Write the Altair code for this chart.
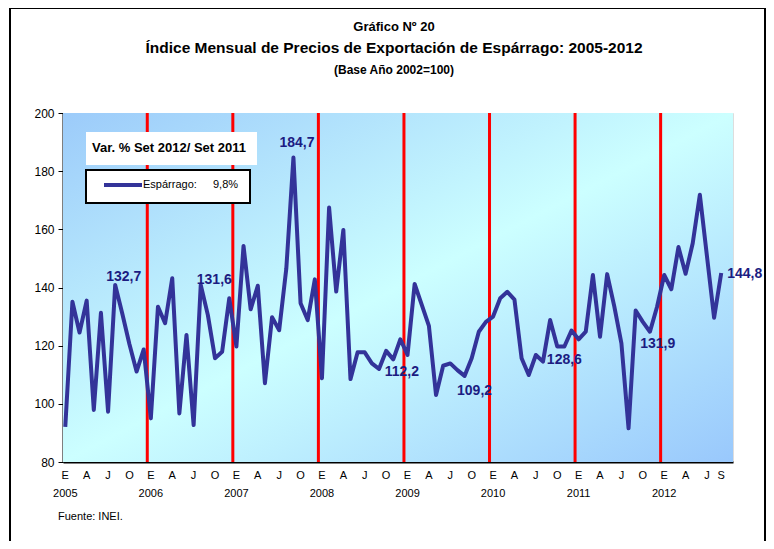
import altair as alt
import pandas as pd

# ---------------- data ----------------
years = [2005, 2006, 2007, 2008, 2009, 2010, 2011, 2012]
month_letters = ["E", "F", "M", "A", "M", "J", "J", "A", "S", "O", "N", "D"]

v2005 = [92.1, 135.1, 124.5, 135.5, 97.9, 131.3, 97.3, 140.9, 131.0, 120.5, 111.1, 118.7]
v2006 = [95.0, 133.4, 127.7, 143.2, 96.7, 123.7, 92.7, 140.9, 130.5, 115.7, 117.9, 136.3]
v2007 = [119.7, 154.3, 132.5, 140.6, 107.1, 129.8, 125.3, 146.5, 184.7, 134.6, 128.8, 142.8]
v2008 = [108.8, 167.5, 138.6, 159.8, 108.5, 117.7, 117.7, 113.9, 112.0, 118.2, 115.3, 122.2]
v2009 = [116.8, 141.2, 134.0, 126.8, 103.0, 113.1, 113.9, 111.6, 109.6, 115.7, 124.8, 128.2]
v2010 = [130.0, 136.3, 138.5, 135.8, 115.7, 109.9, 116.8, 114.5, 128.8, 119.7, 119.7, 125.2]
v2011 = [122.2, 124.8, 144.3, 123.1, 144.6, 133.5, 120.8, 91.6, 132.1, 128.2, 124.8, 133.4]
v2012 = [144.3, 139.4, 153.9, 144.7, 155.2, 171.9, 150.7, 129.6, 145.0]

values = v2005 + v2006 + v2007 + v2008 + v2009 + v2010 + v2011 + v2012

# annotation labels: text, month index, value (where the text sits)
ann_text = ["132,7", "131,6", "184,7", "112,2", "109,2", "128,6", "131,9", "144,8"]
ann_idx = [8.2, 20.9, 32.5, 47.2, 57.4, 70.0, 83.1, 95.3]
ann_val = [143.7, 142.6, 189.6, 111.0, 104.3, 114.9, 120.6, 144.6]

title1 = "Gráfico Nº 20"
title2 = "Índice Mensual de Precios de Exportación de Espárrago:  2005-2012"
title3 = "(Base Año 2002=100)"
legend_title = "Var. % Set 2012/  Set 2011"
legend_name = "Espárrago:"
legend_value = "9,8%"
source = "Fuente: INEI."

y_ticks = [80, 100, 120, 140, 160, 180, 200]

# ---------------- tables ----------------
n = len(values)
df = pd.DataFrame({"i": list(range(n)), "v": values})

tick_vals = list(range(0, n, 3)) + [n - 1]
month_df = pd.DataFrame({"i": tick_vals, "t": [month_letters[i % 12] for i in tick_vals]})
year_df = pd.DataFrame({"i": [k * 12 for k in range(len(years))], "t": [str(y) for y in years]})

sep_df = pd.DataFrame({"sep": [k * 12 - 0.5 for k in range(1, len(years))]})
ann_df = pd.DataFrame({"t": ann_text, "i": ann_idx, "v": ann_val})
one = pd.DataFrame({"a": [0]})

W, H = 670, 349
FONT = "Liberation Sans Narrow, Arial Narrow, Liberation Sans, Arial"
NAVY = "#333399"
TXT = "#1c1c82"

xscale = alt.Scale(domain=[-0.32, 93.65], nice=False, zero=False)
yscale = alt.Scale(domain=[80, 200], nice=False, zero=False)

x_axis = alt.Axis(labels=False, ticks=False, grid=False, domainColor="black",
                  domainWidth=2, title=None)
y_axis = alt.Axis(values=y_ticks, grid=False, domainColor="black", domainWidth=2,
                  tickColor="black", tickSize=5, tickWidth=1, labelFontSize=12,
                  labelPadding=4, labelColor="black", title=None, labelFont=FONT)

# ---------------- layers ----------------
frame = alt.Chart(one).mark_rect(filled=False, stroke="black", strokeWidth=2).encode(
    x=alt.value(-53), x2=alt.value(702), y=alt.value(-105), y2=alt.value(445))

bg = alt.Chart(one).mark_rect(
    color=alt.Gradient(gradient="linear", x1=0, y1=0, x2=1, y2=1,
                       stops=[alt.GradientStop(color="#9ccbfa", offset=0),
                              alt.GradientStop(color="#ccffff", offset=0.5),
                              alt.GradientStop(color="#99c8fc", offset=1)])
).encode(x=alt.value(0), x2=alt.value(W), y=alt.value(0), y2=alt.value(H))

sep_red = alt.Chart(sep_df).mark_rule(color="#ff0000", strokeWidth=3).encode(
    x=alt.X("sep:Q", scale=xscale), y=alt.value(0), y2=alt.value(H))
sep_white = alt.Chart(sep_df).mark_rule(color="white", strokeWidth=1, strokeDash=[2, 5]).encode(
    x=alt.X("sep:Q", scale=xscale), y=alt.value(0), y2=alt.value(H))

line = alt.Chart(df).mark_line(color=NAVY, strokeWidth=4, strokeJoin="round").encode(
    x=alt.X("i:Q", scale=xscale, axis=x_axis),
    y=alt.Y("v:Q", scale=yscale, axis=y_axis))

ann = alt.Chart(ann_df).mark_text(font=FONT, fontSize=14, fontWeight="bold", color=TXT,
                                  align="center", baseline="middle").encode(
    x=alt.X("i:Q", scale=xscale), y=alt.Y("v:Q", scale=yscale), text="t:N")

months = alt.Chart(month_df).mark_text(font=FONT, fontSize=11, color="black",
                                       align="center", baseline="middle").encode(
    x=alt.X("i:Q", scale=xscale), y=alt.value(H + 14), text="t:N")
yrs = alt.Chart(year_df).mark_text(font=FONT, fontSize=11, color="black",
                                   align="center", baseline="middle").encode(
    x=alt.X("i:Q", scale=xscale), y=alt.value(H + 32), text="t:N")

# legend-like box
lg_box1 = alt.Chart(one).mark_rect(color="white").encode(
    x=alt.value(23), x2=alt.value(194), y=alt.value(19), y2=alt.value(52))
lg_title = alt.Chart(one).mark_text(text=legend_title, font=FONT, fontSize=13, fontWeight="bold",
                                    color="black", align="left", baseline="middle").encode(
    x=alt.value(29), y=alt.value(35))
lg_box2 = alt.Chart(one).mark_rect(color="white", stroke="black", strokeWidth=2).encode(
    x=alt.value(23), x2=alt.value(187), y=alt.value(57), y2=alt.value(90))
lg_line = alt.Chart(one).mark_rule(color=NAVY, strokeWidth=4).encode(
    x=alt.value(41), x2=alt.value(79), y=alt.value(72))
lg_name = alt.Chart(one).mark_text(text=legend_name, font=FONT, fontSize=11, color="black",
                                   align="left", baseline="middle").encode(
    x=alt.value(80), y=alt.value(72))
lg_val = alt.Chart(one).mark_text(text=legend_value, font=FONT, fontSize=11, color="black",
                                  align="left", baseline="middle").encode(
    x=alt.value(150), y=alt.value(72))

t1 = alt.Chart(one).mark_text(text=title1, font=FONT, fontSize=13, fontWeight="bold",
                              color="black", align="center", baseline="middle").encode(
    x=alt.value(331), y=alt.value(-86))
t2 = alt.Chart(one).mark_text(text=title2, font=FONT, fontSize=15.5, fontWeight="bold",
                              color="black", align="center", baseline="middle").encode(
    x=alt.value(331), y=alt.value(-65))
t3 = alt.Chart(one).mark_text(text=title3, font=FONT, fontSize=12, fontWeight="bold",
                              color="black", align="center", baseline="middle").encode(
    x=alt.value(331), y=alt.value(-43))
src = alt.Chart(one).mark_text(text=source, font=FONT, fontSize=11, color="black",
                               align="left", baseline="middle").encode(
    x=alt.value(-5), y=alt.value(404))

chart = alt.layer(
    frame, bg, sep_white, sep_red, line, ann, months, yrs,
    lg_box1, lg_title, lg_box2, lg_line, lg_name, lg_val,
    t1, t2, t3, src
).properties(
    width=W, height=H,
    autosize=alt.AutoSizeParams(type="none"),
    padding={"left": 55, "top": 105, "right": 33, "bottom": 79},
    background="white",
).configure_view(stroke="#888888", strokeWidth=2, fill=None).configure(font=FONT)

chart.save("out.html", embed_options={"renderer": "svg", "actions": False})
